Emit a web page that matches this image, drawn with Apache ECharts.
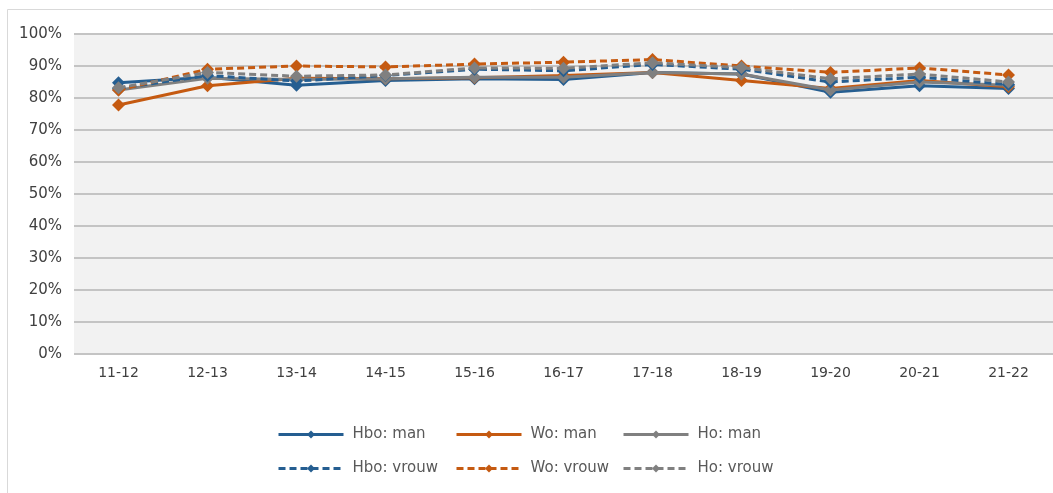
<!DOCTYPE html>
<html>
<head>
<meta charset="utf-8">
<script src="https://cdn.jsdelivr.net/npm/echarts@6/dist/echarts.min.js"></script>
<style>
html,body{margin:0;padding:0;background:#fff;}
#c{width:1053px;height:493px;}
</style>
</head>
<body>
<div id="c"></div>
<script>
const categories = ['11-12','12-13','13-14','14-15','15-16','16-17','17-18','18-19','19-20','20-21','21-22'];
const yTicks = [0,10,20,30,40,50,60,70,80,90,100];
const hboMan   = [84.8, 86.5, 84.0, 85.5, 86.0, 85.8, 88.0, 87.5, 81.8, 83.8, 83.0];
const woMan    = [77.8, 83.8, 86.2, 86.0, 86.3, 87.0, 88.0, 85.5, 83.0, 85.5, 83.5];
const hoMan    = [82.5, 86.2, 85.8, 86.0, 86.5, 86.5, 88.0, 87.5, 82.5, 85.0, 84.0];
const hboVrouw = [83.0, 87.0, 85.3, 87.0, 89.0, 88.5, 90.5, 89.0, 85.0, 86.5, 84.2];
const woVrouw  = [82.5, 89.0, 90.0, 89.7, 90.6, 91.2, 92.0, 90.0, 88.0, 89.4, 87.2];
const hoVrouw  = [83.2, 88.0, 86.8, 87.2, 89.4, 89.3, 91.0, 89.5, 86.0, 87.5, 85.0];
const seriesNames = ['Hbo: man','Wo: man','Ho: man','Hbo: vrouw','Wo: vrouw','Ho: vrouw'];

const BLUE = '#255E91', ORANGE = '#C55A11', GRAY = '#808080';
const colors = [BLUE, ORANGE, GRAY, BLUE, ORANGE, GRAY];
const datas = [hboMan, woMan, hoMan, hboVrouw, woVrouw, hoVrouw];
const FONT = 'DejaVu Sans';

const series = datas.map((d, i) => ({
  name: seriesNames[i],
  type: 'line',
  data: d,
  symbol: 'diamond',
  symbolSize: 13,
  color: colors[i],
  lineStyle: { width: 3, color: colors[i], type: i >= 3 ? [7, 4] : 'solid' },
  itemStyle: { color: colors[i] },
  z: 2 + i,
  animation: false
}));

const legendLefts = [277, 455, 622];
const legends = seriesNames.map((n, i) => ({
  data: [n],
  left: legendLefts[i % 3],
  top: i < 3 ? 427 : 461,
  padding: 0,
  itemWidth: 65,
  itemHeight: 10,
  itemGap: 0,
  lineStyle: { width: 3 },
  textStyle: { fontFamily: FONT, fontSize: 15, color: '#595959', padding: [0,0,0,4] }
}));

const chart = echarts.init(document.getElementById('c'), null, { renderer: 'canvas' });
chart.setOption({
  backgroundColor: '#fff',
  animation: false,
  graphic: [{
    type: 'rect', left: 7, top: 9, z: -10,
    shape: { x: 0, y: 0, width: 1100, height: 600 },
    style: { fill: '#fff', stroke: '#D9D9D9', lineWidth: 1 }
  }],
  legend: legends,
  grid: {
    left: 74, top: 34, width: 982, height: 320,
    show: true, backgroundColor: '#F2F2F2', borderWidth: 0
  },
  xAxis: {
    type: 'category',
    data: categories,
    boundaryGap: true,
    axisLine: { show: false },
    axisTick: { show: false },
    axisLabel: { fontFamily: FONT, fontSize: 14, color: '#404040', margin: 12 }
  },
  yAxis: {
    type: 'value',
    min: 0, max: 100, interval: 10,
    axisLine: { show: false },
    axisTick: { show: false },
    splitLine: { lineStyle: { color: '#C4C4C4', width: 2 } },
    axisLabel: {
      fontFamily: FONT, fontSize: 15, color: '#404040', margin: 12,
      formatter: v => yTicks.includes(v) ? v + '%' : ''
    }
  },
  series: series
});
</script>
</body>
</html>
